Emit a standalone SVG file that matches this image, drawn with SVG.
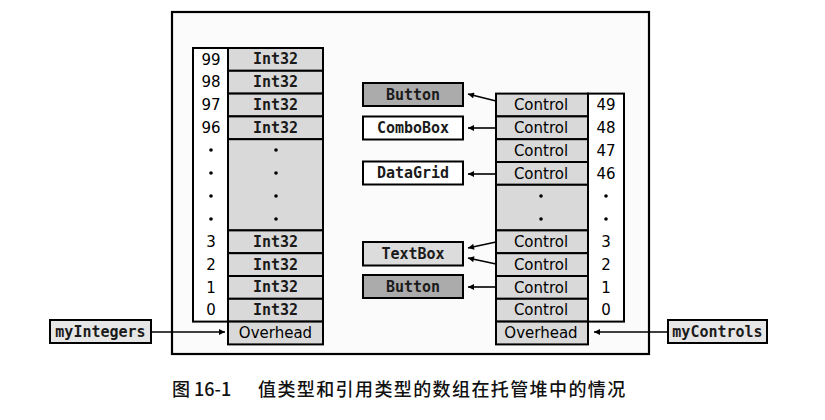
<svg xmlns="http://www.w3.org/2000/svg" width="825" height="420" viewBox="0 0 825 420">
<defs>
<marker id="ah" viewBox="0 0 10 10" refX="10" refY="5" markerWidth="7" markerHeight="6" markerUnits="userSpaceOnUse" orient="auto">
<path d="M0,0 L10,5 L0,10 Z" fill="#000"/>
</marker>
<style>
.cell{fill:#d9d9d9;stroke:#000;stroke-width:2}
.idx{fill:#fff;stroke:#000;stroke-width:2}
.dk{fill:#ababab;stroke:#000;stroke-width:2}
.wt{fill:#fff;stroke:#000;stroke-width:2}
.lt{fill:#dcdcdc;stroke:#000;stroke-width:2}
.var{fill:#e6e6e6;stroke:#000;stroke-width:2}
.mono{font-family:"DejaVu Sans Mono","Liberation Mono",monospace;font-size:15px;font-weight:bold;text-anchor:middle;fill:#1a1a1a}
.sans{font-family:"DejaVu Sans","Liberation Sans",sans-serif;font-size:15px;text-anchor:middle;fill:#000}
.con{stroke:#000;stroke-width:1.6;fill:none}
.dot{fill:#000}
</style>
</defs>
<rect width="825" height="420" fill="#fff"/>
<rect id="frame" x="172" y="12" width="477" height="342" fill="#fbfbfb" stroke="#000" stroke-width="2.2"/>

<g id="intArray">
<rect class="idx" x="193" y="48" width="35" height="273.6"/>
<rect class="cell" x="228" y="48" width="95" height="22.8"/>
<rect class="cell" x="228" y="70.8" width="95" height="22.8"/>
<rect class="cell" x="228" y="93.6" width="95" height="22.8"/>
<rect class="cell" x="228" y="116.4" width="95" height="22.8"/>
<rect class="cell" x="228" y="139.2" width="95" height="91.2"/>
<rect class="cell" x="228" y="230.4" width="95" height="22.8"/>
<rect class="cell" x="228" y="253.2" width="95" height="22.8"/>
<rect class="cell" x="228" y="276" width="95" height="22.8"/>
<rect class="cell" x="228" y="298.8" width="95" height="22.8"/>
<rect class="cell" x="228" y="321.6" width="95" height="22.8"/>
<text class="sans" x="211" y="64.5">99</text>
<text class="sans" x="211" y="87.3">98</text>
<text class="sans" x="211" y="110.1">97</text>
<text class="sans" x="211" y="132.9">96</text>
<text class="sans" x="211" y="246.9">3</text>
<text class="sans" x="211" y="269.7">2</text>
<text class="sans" x="211" y="292.5">1</text>
<text class="sans" x="211" y="315.3">0</text>
<text class="mono" x="275.5" y="64.3">Int32</text>
<text class="mono" x="275.5" y="87.1">Int32</text>
<text class="mono" x="275.5" y="109.9">Int32</text>
<text class="mono" x="275.5" y="132.7">Int32</text>
<text class="mono" x="275.5" y="246.7">Int32</text>
<text class="mono" x="275.5" y="269.5">Int32</text>
<text class="mono" x="275.5" y="292.3">Int32</text>
<text class="mono" x="275.5" y="315.1">Int32</text>
<text class="sans" x="275.5" y="338.1">Overhead</text>
<circle class="dot" cx="211" cy="150" r="1.8"/><circle class="dot" cx="211" cy="173" r="1.8"/><circle class="dot" cx="211" cy="196" r="1.8"/><circle class="dot" cx="211" cy="219" r="1.8"/>
<circle class="dot" cx="276" cy="150" r="1.8"/><circle class="dot" cx="276" cy="173" r="1.8"/><circle class="dot" cx="276" cy="196" r="1.8"/><circle class="dot" cx="276" cy="219" r="1.8"/>
</g>

<g id="ctrlArray">
<rect class="idx" x="588" y="93.6" width="36" height="228"/>
<rect class="cell" x="496" y="93.6" width="92" height="22.8"/>
<rect class="cell" x="496" y="116.4" width="92" height="22.8"/>
<rect class="cell" x="496" y="139.2" width="92" height="22.8"/>
<rect class="cell" x="496" y="162" width="92" height="22.8"/>
<rect class="cell" x="496" y="184.8" width="92" height="45.6"/>
<rect class="cell" x="496" y="230.4" width="92" height="22.8"/>
<rect class="cell" x="496" y="253.2" width="92" height="22.8"/>
<rect class="cell" x="496" y="276" width="92" height="22.8"/>
<rect class="cell" x="496" y="298.8" width="92" height="22.8"/>
<rect class="cell" x="496" y="321.6" width="92" height="22.8"/>
<text class="sans" x="541" y="110.1">Control</text>
<text class="sans" x="541" y="132.9">Control</text>
<text class="sans" x="541" y="155.7">Control</text>
<text class="sans" x="541" y="178.5">Control</text>
<text class="sans" x="541" y="246.9">Control</text>
<text class="sans" x="541" y="269.7">Control</text>
<text class="sans" x="541" y="292.5">Control</text>
<text class="sans" x="541" y="315.3">Control</text>
<text class="sans" x="541" y="338.1">Overhead</text>
<text class="sans" x="606" y="110.1">49</text>
<text class="sans" x="606" y="132.9">48</text>
<text class="sans" x="606" y="155.7">47</text>
<text class="sans" x="606" y="178.5">46</text>
<text class="sans" x="606" y="246.9">3</text>
<text class="sans" x="606" y="269.7">2</text>
<text class="sans" x="606" y="292.5">1</text>
<text class="sans" x="606" y="315.3">0</text>
<circle class="dot" cx="541" cy="196" r="1.8"/><circle class="dot" cx="541" cy="219" r="1.8"/>
<circle class="dot" cx="606" cy="196" r="1.8"/><circle class="dot" cx="606" cy="219" r="1.8"/>
</g>

<g id="button1"><rect class="dk" x="363" y="83" width="100" height="23"/><text class="mono" x="413" y="99.8">Button</text></g>
<g id="comboBox"><rect class="wt" x="363" y="116.5" width="100" height="23"/><text class="mono" x="413" y="133.3">ComboBox</text></g>
<g id="dataGrid"><rect class="wt" x="363" y="161.5" width="100" height="23"/><text class="mono" x="413" y="178.3">DataGrid</text></g>
<g id="textBox"><rect class="lt" x="363" y="242" width="100" height="23.5"/><text class="mono" x="413" y="259">TextBox</text></g>
<g id="button2"><rect class="dk" x="363" y="275" width="100" height="23"/><text class="mono" x="413" y="291.8">Button</text></g>
<g id="myIntegers"><rect class="var" x="50" y="320" width="101" height="23"/><text class="mono" x="100.5" y="336.8">myIntegers</text></g>
<g id="myControls"><rect class="var" x="668" y="320" width="99" height="23"/><text class="mono" x="717.5" y="336.8">myControls</text></g>

<g id="connectors">
<line class="con" x1="496" y1="101" x2="468" y2="94" marker-end="url(#ah)"/>
<line class="con" x1="496" y1="128" x2="468" y2="128" marker-end="url(#ah)"/>
<line class="con" x1="496" y1="174" x2="468" y2="174" marker-end="url(#ah)"/>
<line class="con" x1="496" y1="242" x2="468" y2="248" marker-end="url(#ah)"/>
<line class="con" x1="496" y1="264" x2="468" y2="258" marker-end="url(#ah)"/>
<line class="con" x1="496" y1="287" x2="468" y2="287" marker-end="url(#ah)"/>
<line class="con" x1="151" y1="332" x2="225" y2="332" marker-end="url(#ah)"/>
<line class="con" x1="668" y1="332" x2="594" y2="332" marker-end="url(#ah)"/>
</g>

<text x="172" y="396" font-family="'Noto Sans CJK SC','Liberation Sans',sans-serif" font-size="18" font-weight="500" fill="#111"><tspan>图 16-1</tspan><tspan x="258" letter-spacing="1.4">值类型和引用类型的数组在托管堆中的情况</tspan></text>
</svg>
